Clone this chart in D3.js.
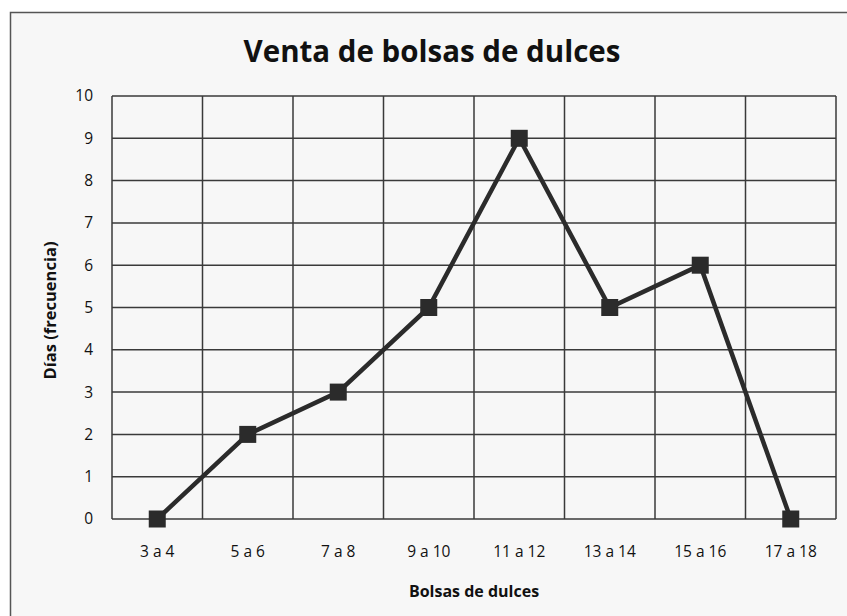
<!DOCTYPE html>
<html><head><meta charset="utf-8">
<script src="https://cdn.jsdelivr.net/npm/d3@7"></script>
<style>
html,body{margin:0;padding:0;background:#fff;}
svg{display:block;}
text{font-family:"Open Sans","Liberation Sans",sans-serif;fill:#111;}
</style></head>
<body>
<svg id="chart" width="847" height="616"></svg>
<script>
const categories = ["3 a 4","5 a 6","7 a 8","9 a 10","11 a 12","13 a 14","15 a 16","17 a 18"];
const values = [0, 2, 3, 5, 9, 5, 6, 0];
const yTicks = [0,1,2,3,4,5,6,7,8,9,10];
const title = "Venta de bolsas de dulces";
const xTitle = "Bolsas de dulces";
const yTitle = "Días (frecuencia)";

const svg = d3.select("#chart");
const W = 847, H = 616;
const m = {left:112, right:11, top:96, bottom:97};

svg.append("rect").attr("x",10.5).attr("y",12.5).attr("width",W+10).attr("height",H+10)
  .attr("fill","#f7f7f7").attr("stroke","#555").attr("stroke-width",1.5);

const x = d3.scaleBand().domain(categories).range([m.left, W - m.right]).padding(0);
const y = d3.scaleLinear().domain([0,10]).range([H - m.bottom, m.top]);

const grid = svg.append("g");
grid.selectAll("line.h").data(yTicks).join("line")
  .attr("x1", m.left).attr("x2", W - m.right)
  .attr("y1", d => y(d)).attr("y2", d => y(d))
  .attr("stroke","#3a3a3a").attr("stroke-width",1.5);
const bounds = categories.map(c => x(c)).concat([x(categories[categories.length-1]) + x.bandwidth()]);
grid.selectAll("line.v").data(bounds).join("line")
  .attr("x1", d => d).attr("x2", d => d)
  .attr("y1", y(10)).attr("y2", y(0))
  .attr("stroke","#3a3a3a").attr("stroke-width",1.5);

const yAxis = d3.axisLeft(y).tickValues(yTicks).tickSize(0).tickPadding(0).tickFormat(d3.format("d"));
const ya = svg.append("g").attr("transform",`translate(${m.left-19},0)`).call(yAxis);
ya.select(".domain").remove();
ya.selectAll("text").attr("font-size",15.5).attr("fill","#111").attr("font-family","Open Sans, sans-serif");

const xAxis = d3.axisBottom(x).tickSize(0).tickPadding(0);
const xa = svg.append("g").attr("transform",`translate(0,${y(0)+27})`).call(xAxis);
xa.select(".domain").remove();
xa.selectAll("text").attr("font-size",15.5).attr("fill","#111").attr("font-family","Open Sans, sans-serif");

const line = d3.line().x((d,i) => x(categories[i]) + x.bandwidth()/2).y(d => y(d));
svg.append("path").datum(values).attr("d", line)
  .attr("fill","none").attr("stroke","#2b2b2b").attr("stroke-width",4.5).attr("stroke-linejoin","miter");

const ms = 17;
svg.selectAll("rect.mk").data(values).join("rect")
  .attr("x",(d,i) => x(categories[i]) + x.bandwidth()/2 - ms/2)
  .attr("y", d => y(d) - ms/2)
  .attr("width", ms).attr("height", ms).attr("fill","#2b2b2b");

svg.append("text").attr("x",432).attr("y",62).attr("text-anchor","middle")
  .attr("font-size",29.5).attr("font-weight","bold").text(title);
svg.append("text").attr("x",(m.left + W - m.right)/2).attr("y",597).attr("text-anchor","middle")
  .attr("font-size",16).attr("font-weight","bold").text(xTitle);
svg.append("text").attr("transform",`translate(56,${(y(0)+y(10))/2 + 3}) rotate(-90)`).attr("text-anchor","middle")
  .attr("font-size",16.5).attr("font-weight","bold").text(yTitle);
</script>
</body></html>
